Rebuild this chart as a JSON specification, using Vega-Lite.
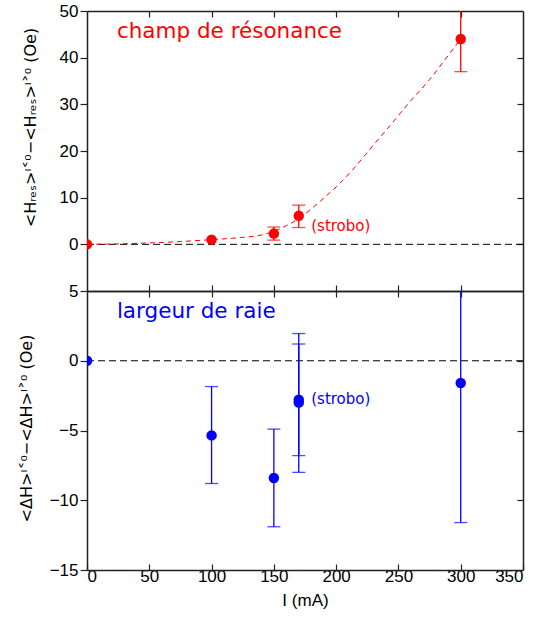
{
  "$schema": "https://vega.github.io/schema/vega-lite/v6.json",
  "padding": {"left": 18, "top": 2, "right": 5, "bottom": 5},
  "spacing": 0,
  "bounds": "flush",
  "config": {
    "view": {"stroke": null},
    "axis": {
      "grid": false,
      "domainColor": "#222222",
      "domainWidth": 1.5,
      "tickColor": "#222222",
      "tickWidth": 1.2,
      "labelFont": "Liberation Sans",
      "labelFontSize": 17,
      "labelColor": "black",
      "titleFont": "DejaVu Sans",
      "titleFontSize": 16,
      "titleFontWeight": "normal",
      "titleColor": "black"
    }
  },
  "datasets": {
    "zero": [{"x0": 0, "x1": 350, "y": 0}],
    "curve": [
      {"x": 0, "y": 0}, {"x": 25, "y": 0.1}, {"x": 50, "y": 0.3}, {"x": 75, "y": 0.6},
      {"x": 100, "y": 1.0}, {"x": 125, "y": 1.5}, {"x": 140, "y": 2.0}, {"x": 150, "y": 2.8},
      {"x": 160, "y": 4.0}, {"x": 170, "y": 5.5}, {"x": 180, "y": 7.6}, {"x": 190, "y": 9.9},
      {"x": 200, "y": 12.3}, {"x": 215, "y": 16.5}, {"x": 230, "y": 21.3}, {"x": 245, "y": 26.0},
      {"x": 260, "y": 30.8}, {"x": 275, "y": 35.3}, {"x": 290, "y": 40.5}, {"x": 300, "y": 44.0}
    ],
    "red": [
      {"x": 0, "y": 0},
      {"x": 100, "y": 1.0},
      {"x": 150, "y": 2.3, "lo": 0.9, "hi": 3.7},
      {"x": 170, "y": 6.1, "lo": 3.6, "hi": 8.4},
      {"x": 300, "y": 44.0, "lo": 37.0, "hi": 51.0}
    ],
    "blue": [
      {"x": 0, "y": 0},
      {"x": 100, "y": -5.35, "lo": -8.8, "hi": -1.85},
      {"x": 150, "y": -8.4, "lo": -11.9, "hi": -4.9},
      {"x": 170, "y": -3.0, "lo": -8.0, "hi": 1.95},
      {"x": 170, "y": -2.8, "lo": -6.8, "hi": 1.2},
      {"x": 300, "y": -1.6, "lo": -11.6, "hi": 8.4}
    ],
    "titleTop": [{"x": 24, "y": 45.5, "t": "champ de résonance"}],
    "stroboTop": [{"x": 180, "y": 3.9, "t": "(strobo)"}],
    "titleBot": [{"x": 24, "y": 3.5, "t": "largeur de raie"}],
    "stroboBot": [{"x": 180, "y": -2.75, "t": "(strobo)"}]
  },
  "vconcat": [
    {
      "width": 436,
      "height": 280,
      "resolve": {"axis": {"x": "independent", "y": "independent"}},
      "layer": [
        {
          "data": {"name": "zero"},
          "mark": {"type": "rule", "color": "black", "strokeDash": [7, 4], "strokeWidth": 1},
          "encoding": {
            "x": {"field": "x0", "type": "quantitative", "scale": {"domain": [0, 350], "nice": false},
                  "axis": {"orient": "bottom", "labels": false, "tickSize": -6, "values": [50, 100, 150, 200, 250, 300], "title": null}},
            "x2": {"field": "x1"},
            "y": {"field": "y", "type": "quantitative", "scale": {"domain": [-10, 50], "nice": false, "zero": false},
                  "axis": {"orient": "left", "values": [0, 10, 20, 30, 40, 50], "tickSize": 7, "labelPadding": 2,
                           "title": "<Hᵣₑₛ>ᴵ˂⁰−<Hᵣₑₛ>ᴵ˃⁰ (Oe)", "titleAngle": -90, "titleX": -57, "titleY": 116,
                           "titleAlign": "center", "titleBaseline": "middle"}}
          }
        },
        {
          "data": {"name": "curve"},
          "mark": {"type": "line", "color": "#ff0000", "strokeDash": [5, 4], "strokeWidth": 1, "interpolate": "monotone", "clip": true},
          "encoding": {
            "x": {"field": "x", "type": "quantitative",
                  "axis": {"orient": "top", "labels": false, "tickSize": -6, "values": [50, 100, 150, 200, 250, 300], "title": null}},
            "y": {"field": "y", "type": "quantitative",
                  "axis": {"orient": "right", "labels": false, "tickSize": -6, "values": [0, 10, 20, 30, 40], "title": null}}
          }
        },
        {
          "data": {"name": "red"},
          "mark": {"type": "rule", "color": "#ff0000", "strokeWidth": 1.3, "clip": true},
          "encoding": {
            "x": {"field": "x", "type": "quantitative", "axis": null},
            "y": {"field": "lo", "type": "quantitative", "axis": null},
            "y2": {"field": "hi"}
          }
        },
        {
          "data": {"name": "red"},
          "mark": {"type": "tick", "orient": "horizontal", "color": "#ff0000", "size": 13, "thickness": 1.3, "clip": true},
          "encoding": {
            "x": {"field": "x", "type": "quantitative", "axis": null},
            "y": {"field": "lo", "type": "quantitative", "axis": null}
          }
        },
        {
          "data": {"name": "red"},
          "mark": {"type": "tick", "orient": "horizontal", "color": "#ff0000", "size": 13, "thickness": 1.3, "clip": true},
          "encoding": {
            "x": {"field": "x", "type": "quantitative", "axis": null},
            "y": {"field": "hi", "type": "quantitative", "axis": null}
          }
        },
        {
          "data": {"name": "red"},
          "mark": {"type": "point", "filled": true, "color": "#ff0000", "opacity": 1, "size": 110, "clip": true},
          "encoding": {
            "x": {"field": "x", "type": "quantitative", "axis": null},
            "y": {"field": "y", "type": "quantitative", "axis": null}
          }
        },
        {
          "data": {"name": "titleTop"},
          "mark": {"type": "text", "color": "#ff0000", "font": "DejaVu Sans", "fontSize": 21.5, "align": "left", "baseline": "middle"},
          "encoding": {
            "x": {"field": "x", "type": "quantitative", "axis": null},
            "y": {"field": "y", "type": "quantitative", "axis": null},
            "text": {"field": "t"}
          }
        },
        {
          "data": {"name": "stroboTop"},
          "mark": {"type": "text", "color": "#ff0000", "font": "DejaVu Sans", "fontSize": 15, "align": "left", "baseline": "middle"},
          "encoding": {
            "x": {"field": "x", "type": "quantitative", "axis": null},
            "y": {"field": "y", "type": "quantitative", "axis": null},
            "text": {"field": "t"}
          }
        }
      ]
    },
    {
      "width": 436,
      "height": 279,
      "resolve": {"axis": {"x": "independent", "y": "independent"}},
      "layer": [
        {
          "data": {"name": "zero"},
          "mark": {"type": "rule", "color": "black", "strokeDash": [7, 4], "strokeWidth": 1},
          "encoding": {
            "x": {"field": "x0", "type": "quantitative", "scale": {"domain": [0, 350], "nice": false},
                  "axis": {"orient": "bottom", "tickSize": -6, "labelPadding": 4, "values": [0, 50, 100, 150, 200, 250, 300, 350],
                           "title": "I (mA)", "titleFont": "Liberation Sans", "titleFontSize": 17, "titlePadding": 8}},
            "x2": {"field": "x1"},
            "y": {"field": "y", "type": "quantitative", "scale": {"domain": [-15, 5], "nice": false, "zero": false},
                  "axis": {"orient": "left", "values": [5, 0, -5, -10, -15], "tickSize": 7, "labelPadding": 2,
                           "title": "<ΔH>ᴵ˂⁰−<ΔH>ᴵ˃⁰ (Oe)", "titleAngle": -90, "titleX": -61, "titleY": 137,
                           "titleAlign": "center", "titleBaseline": "middle"}}
          }
        },
        {
          "data": {"name": "blue"},
          "mark": {"type": "rule", "color": "#0000ff", "strokeWidth": 1.3, "clip": true},
          "encoding": {
            "x": {"field": "x", "type": "quantitative",
                  "axis": {"orient": "top", "labels": false, "tickSize": -6, "values": [50, 100, 150, 200, 250, 300], "title": null}},
            "y": {"field": "lo", "type": "quantitative",
                  "axis": {"orient": "right", "labels": false, "tickSize": -6, "values": [0, -5, -10], "title": null}},
            "y2": {"field": "hi"}
          }
        },
        {
          "data": {"name": "blue"},
          "mark": {"type": "tick", "orient": "horizontal", "color": "#0000ff", "size": 13, "thickness": 1.3, "clip": true},
          "encoding": {
            "x": {"field": "x", "type": "quantitative", "axis": null},
            "y": {"field": "lo", "type": "quantitative", "axis": null}
          }
        },
        {
          "data": {"name": "blue"},
          "mark": {"type": "tick", "orient": "horizontal", "color": "#0000ff", "size": 13, "thickness": 1.3, "clip": true},
          "encoding": {
            "x": {"field": "x", "type": "quantitative", "axis": null},
            "y": {"field": "hi", "type": "quantitative", "axis": null}
          }
        },
        {
          "data": {"name": "blue"},
          "mark": {"type": "point", "filled": true, "color": "#0000ff", "opacity": 1, "size": 110, "clip": true},
          "encoding": {
            "x": {"field": "x", "type": "quantitative", "axis": null},
            "y": {"field": "y", "type": "quantitative", "axis": null}
          }
        },
        {
          "data": {"name": "titleBot"},
          "mark": {"type": "text", "color": "#0000ff", "font": "DejaVu Sans", "fontSize": 21.5, "align": "left", "baseline": "middle"},
          "encoding": {
            "x": {"field": "x", "type": "quantitative", "axis": null},
            "y": {"field": "y", "type": "quantitative", "axis": null},
            "text": {"field": "t"}
          }
        },
        {
          "data": {"name": "stroboBot"},
          "mark": {"type": "text", "color": "#0000ff", "font": "DejaVu Sans", "fontSize": 15, "align": "left", "baseline": "middle"},
          "encoding": {
            "x": {"field": "x", "type": "quantitative", "axis": null},
            "y": {"field": "y", "type": "quantitative", "axis": null},
            "text": {"field": "t"}
          }
        }
      ]
    }
  ]
}
